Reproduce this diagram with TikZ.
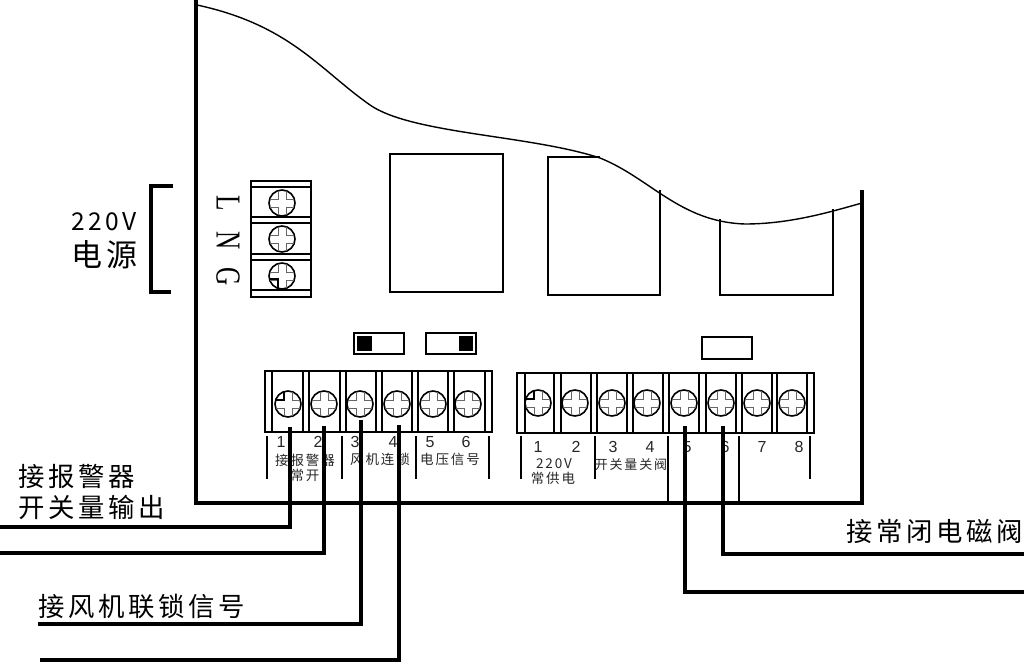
\documentclass[tikz,border=0pt]{standalone}
\usepackage{fontspec}
\setmainfont{Liberation Sans}
\newfontfamily\cjk[LetterSpace=14]{Noto Sans CJK SC}
\newfontfamily\serifrm[FakeStretch=0.72]{Liberation Serif}
\tikzset{
  frameline/.style={line width=4pt},
  thinline/.style={line width=1.4pt},
  wire/.style={line width=3.5pt},
  tick/.style={line width=1.5pt},
  screwhead/.style={circle,draw,line width=1.6pt,minimum size=26pt,inner sep=0pt},
  smalltxt/.style={font=\cjk\fontsize{13.5}{14}\selectfont,inner sep=0pt,text=black!85},
  numtxt/.style={font=\fontsize{16}{17}\selectfont,inner sep=0pt,text=black!85},
  bigtxt/.style={font=\cjk\fontsize{26.4}{27}\selectfont,inner sep=0pt,anchor=west}
}
% screw: name, x, y
\newcommand{\screwat}[3]{
  \node[screwhead] (#1) at (#2,#3) {};
  \foreach \sx in {-1,1}{
    \foreach \sy in {-1,1}{
      \draw[black!60,line width=0.7pt] (#2+\sx*4,#3+\sy*12.3) -- (#2+\sx*4,#3+\sy*4) -- (#2+\sx*12.3,#3+\sy*4);
    }
  }
}
\begin{document}
\begin{tikzpicture}[x=1pt,y=-1pt]
  \useasboundingbox (0,0) rectangle (1024,663);

  %Gehaeuse
  \draw[frameline] (196,0) -- (196,503) -- (862,503) -- (862,190);
  \draw[thinline] (197,5) .. controls (290,25) and (320,70) .. (370,105)
    .. controls (412,134) and (530,135) .. (600,158)
    .. controls (650,178) and (680,222) .. (745,224)
    .. controls (790,224) and (830,212) .. (862,203);

  %Relais
  \draw[thinline] (390,154) rectangle (503,292);
  \draw[thinline] (600,157) -- (548,157) -- (548,295) -- (660,295) -- (660,190);
  \draw[thinline] (720,219) -- (720,295) -- (833,295) -- (833,209);

  %Schalter
  \draw[line width=2pt] (354,333) rectangle (404,354);
  \fill (357,336) rectangle (372,351);
  \draw[line width=2pt] (426,333) rectangle (476,354);
  \fill (459,336) rectangle (473,351);
  \draw[line width=2pt] (702,337) rectangle (752,359);

  %Netzklemme
  \draw[line width=1.5pt] (251,181) rectangle (311,297);
  \foreach \ya/\yb in {181/187,217/223,254/260,290/297}
    \draw[line width=1.5pt] (251,\ya) rectangle (311,\yb);
  \foreach \name/\y in {pl/203,pn/239,pg/276}
    \screwat{\name}{282}{\y}
  \draw[line width=2pt] (269,279) -- (278,279) -- (278,288);
  \foreach \lbl/\y in {L/203,N/241,G/277}
    \node[font=\serifrm\fontsize{35}{36}\selectfont,rotate=-90,inner sep=0pt] (lbl\lbl) at (228,\y) {\lbl};

  %Klemmen links
  \draw[line width=1.5pt] (265,371) rectangle (492,432);
  \foreach \xa/\xb in {265/272,303/309,340/346,376/382,412/418,448/454,485/492}
    \draw[line width=1.5pt] (\xa,371) rectangle (\xb,432);
  \foreach \n/\x in {1/288,2/324,3/360,4/397,5/433,6/468}
    \screwat{a\n}{\x}{404}
  \draw[line width=2pt] (275,400) -- (284,400) -- (284,391);

  %Klemmen rechts
  \draw[line width=1.5pt] (517,373) rectangle (814,433);
  \foreach \xa/\xb in {517/525,554/561,591/597,627/633,663/669,699/706,736/742,772/777,807/814}
    \draw[line width=1.5pt] (\xa,373) rectangle (\xb,433);
  \foreach \n/\x in {1/538,2/575,3/612,4/647,5/684,6/721,7/757,8/792}
    \screwat{b\n}{\x}{403}
  \draw[line width=2pt] (525,399) -- (534,399) -- (534,390);

  %Teilstriche
  \foreach \x in {267,342,416,489,521,595,810}
    \draw[tick] (\x,436) -- (\x,479);
  \foreach \x in {668,739}
    \draw[tick] (\x,436) -- (\x,503);

  %Nummern
  \foreach \n/\x in {1/281,2/318,3/355,4/393,5/430,6/466}
    \node[numtxt] (na\n) at (\x,442) {\n};
  \foreach \n/\x in {1/538,2/576,3/613,4/650,5/687,6/725,7/762,8/799}
    \node[numtxt] (nb\n) at (\x,447) {\n};

  %Beschriftung Klemmen
  \node[smalltxt] (t1) at (305,460) {接报警器};
  \node[smalltxt] (t2) at (305,475) {常开};
  \node[smalltxt] (t3) at (380,459) {风机连锁};
  \node[smalltxt] (t4) at (450,459) {电压信号};
  \node[smalltxt] (t5) at (554,464) {220V};
  \node[smalltxt] (t6) at (553,478) {常供电};
  \node[smalltxt,font=\cjk\fontsize{13}{14}\selectfont] (t7) at (631,465) {开关量关阀};

  %grosse Texte
  \node[bigtxt,font=\cjk\fontsize{24.5}{25}\selectfont] (v220) at (71,222) {220V};
  \node[bigtxt,font=\cjk\fontsize{31}{32}\selectfont] (power) at (71,255) {电源};
  \node[bigtxt] (alarm) at (18,476) {接报警器};
  \node[bigtxt] (output) at (18,507) {开关量输出};
  \node[bigtxt] (fan) at (38,606) {接风机联锁信号};
  \node[bigtxt] (valve) at (846,531) {接常闭电磁阀};

  %Klammer
  \draw[line width=3.5pt] (173,186) -- (151,186) -- (151,292) -- (171,292);

  %Leitungen
  \foreach \n/\xa/\ya/\xb/\yb in {1/290/427/0/527,2/324/426/0/553,3/361/420/38/624,4/399/425/40/660,5/685/426/1024/592,6/723/426/1024/554}{
    \coordinate (from\n) at (\xa,\ya);
    \coordinate (to\n) at (\xb,\yb);
    \draw[wire] (from\n) |- (to\n);
  }
\end{tikzpicture}
\end{document}
